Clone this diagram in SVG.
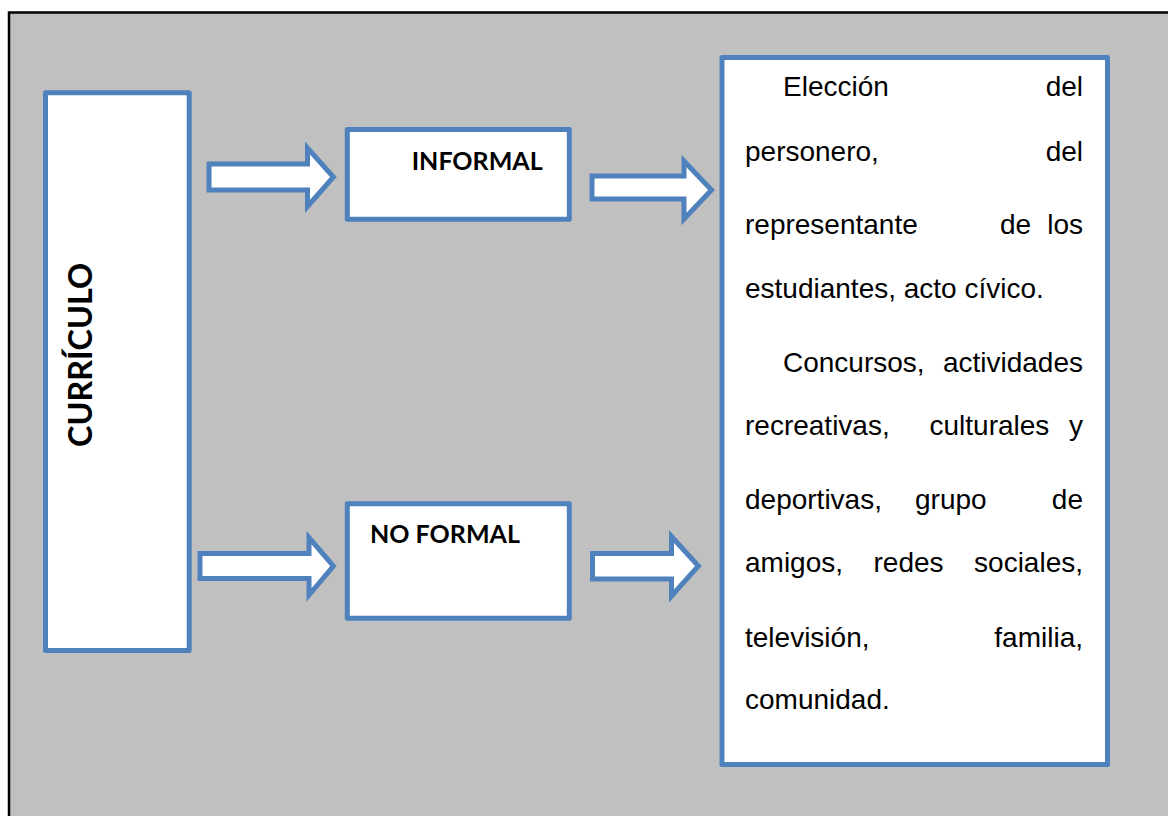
<svg xmlns="http://www.w3.org/2000/svg" width="1168" height="816" viewBox="0 0 1168 816">
  <style>
    .box { fill: #FFFFFF; stroke: #4F81BD; stroke-width: 5; stroke-linejoin: round; }
    .arrow { fill: #FFFFFF; stroke: #4F81BD; stroke-width: 5; stroke-linejoin: miter; }
    .lbl { font-family: Lato, "Open Sans", "Liberation Sans", sans-serif; font-weight: bold; fill: #000000; }
    .body { font-family: "Liberation Sans", Arial, sans-serif; font-size: 28px; fill: #000000; }
  </style>
  <rect x="0" y="0" width="1168" height="816" fill="#FFFFFF"/>
  <rect id="frame" x="9" y="12.5" width="1175" height="815" fill="#C0C0C0" stroke="#000000" stroke-width="2.5"/>

  <g id="connectors">
    <path class="arrow" d="M209,164 L307.5,164 L307.5,148 L333.4,177 L307.5,206.5 L307.5,190 L209,190 Z"/>
    <path class="arrow" d="M592,176 L684,176 L684,161 L711.5,190 L684,219 L684,199 L592,199 Z"/>
    <path class="arrow" d="M200,553.5 L309,553.5 L309,537.5 L333.4,566 L309,595 L309,578.5 L200,578.5 Z"/>
    <path class="arrow" d="M592.5,553.5 L671.5,553.5 L671.5,536.5 L698.4,566 L671.5,596 L671.5,579 L592.5,579 Z"/>
  </g>

  <g id="curriculo">
    <rect class="box" x="45.5" y="92.7" width="143.7" height="557.8"/>
    <text class="lbl" font-size="33" transform="translate(92.3,355) rotate(-90)" text-anchor="middle" textLength="184" lengthAdjust="spacingAndGlyphs">CURRÍCULO</text>
  </g>

  <g id="informal">
    <rect class="box" x="347.3" y="129.5" width="222" height="89.7"/>
    <text class="lbl" font-size="25" x="411.7" y="170" textLength="131" lengthAdjust="spacingAndGlyphs">INFORMAL</text>
  </g>

  <g id="noformal">
    <rect class="box" x="347.3" y="503.7" width="222" height="114.5"/>
    <text class="lbl" font-size="25" x="370" y="543.3" textLength="150" lengthAdjust="spacingAndGlyphs">NO FORMAL</text>
  </g>

  <g id="detalle">
    <rect class="box" x="722" y="57.5" width="385.5" height="707"/>
    <g class="body">
      <text x="783" y="96">Elección</text>
      <text x="1083" y="96" text-anchor="end">del</text>

      <text x="745" y="161">personero,</text>
      <text x="1083" y="161" text-anchor="end">del</text>

      <text x="745" y="234">representante</text>
      <text x="1000" y="234">de</text>
      <text x="1083" y="234" text-anchor="end">los</text>

      <text x="745" y="298">estudiantes, acto cívico.</text>

      <text x="783" y="372">Concursos,</text>
      <text x="1083" y="372" text-anchor="end">actividades</text>

      <text x="745" y="435">recreativas,</text>
      <text x="929.5" y="435">culturales</text>
      <text x="1083" y="435" text-anchor="end">y</text>

      <text x="745" y="509">deportivas,</text>
      <text x="915" y="509">grupo</text>
      <text x="1083" y="509" text-anchor="end">de</text>

      <text x="745" y="572">amigos,</text>
      <text x="873.5" y="572">redes</text>
      <text x="1083" y="572" text-anchor="end">sociales,</text>

      <text x="745" y="647">televisión,</text>
      <text x="1083" y="647" text-anchor="end">familia,</text>

      <text x="745" y="709">comunidad.</text>
    </g>
  </g>
</svg>
